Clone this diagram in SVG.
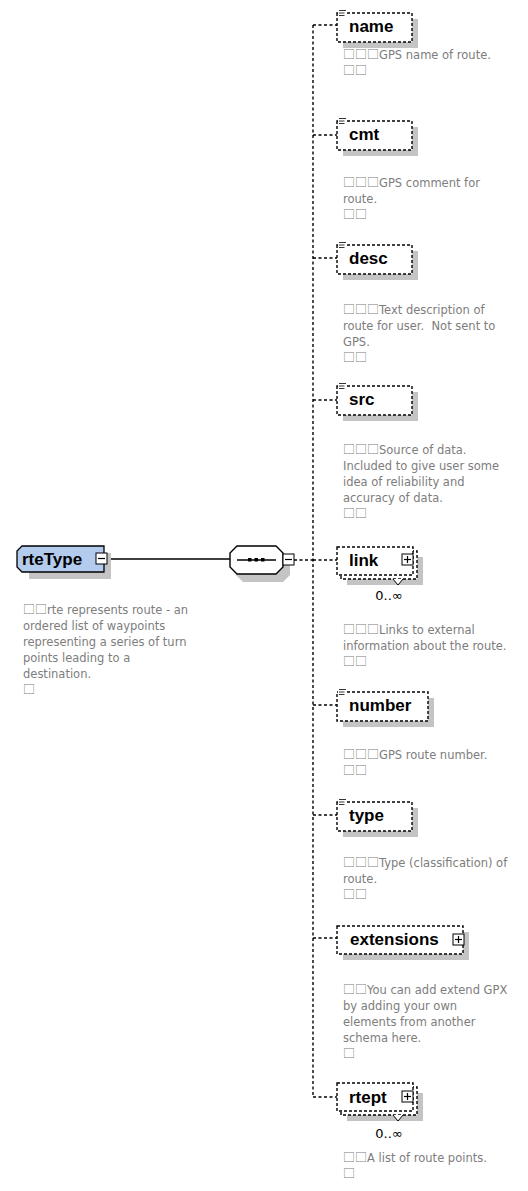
<svg xmlns="http://www.w3.org/2000/svg" width="528" height="1191" viewBox="0 0 528 1191">
  <style>
    .lbl { font-family: "Liberation Sans", Arial, sans-serif; font-weight: bold; font-size: 17px; fill: #000; }
    .doc { font-family: "DejaVu Sans", Verdana, sans-serif; font-size: 11.5px; fill: #7d7d7d; white-space: pre; }
    .tofu { font-family: "Noto Sans CJK SC", "DejaVu Sans", sans-serif; font-size: 12px; }
    .occ { font-family: "DejaVu Sans", Verdana, sans-serif; font-size: 13px; fill: #000; text-anchor: middle; }
    .shadow { fill: #c4c4c4; }
    .opt { fill: #fff; stroke: #000; stroke-width: 1.4; stroke-dasharray: 3 2; }
    .conn { fill: none; stroke: #000; stroke-width: 1.4; stroke-dasharray: 3 2.5; }
    .solid { fill: none; stroke: #000; stroke-width: 1.3; }
    .btn { fill: #fff; stroke: #000; stroke-width: 1; }
    .btnmark { stroke: #000; stroke-width: 1.2; }
    .ico { stroke: #000; stroke-width: 0.8; }
  </style>
  <defs>
    <g id="plusBox">
      <rect class="btn" x="0" y="0" width="11" height="11"/>
      <line class="btnmark" x1="2" y1="5.5" x2="9" y2="5.5"/>
      <line class="btnmark" x1="5.5" y1="2" x2="5.5" y2="9"/>
    </g>
    <g id="minusBox">
      <rect class="btn" x="0" y="0" width="11" height="11"/>
      <line class="btnmark" x1="2" y1="5.5" x2="9" y2="5.5"/>
    </g>
    <!-- simple-content marker at an element's top-left corner -->
    <g id="simpleIcon">
      <rect x="0" y="-1" width="9" height="8" fill="#fff"/>
      <line class="ico" x1="1" y1="0.5" x2="8" y2="0.5"/>
      <line class="ico" x1="1" y1="3" x2="6.5" y2="3"/>
      <line class="ico" x1="1" y1="5.5" x2="6.5" y2="5.5"/>
    </g>
  </defs>

  <rect width="528" height="1191" fill="#fff"/>

  <!-- connectors -->
  <g id="connectors">
    <line class="solid" x1="107" y1="559" x2="230" y2="559"/>
    <line class="conn" x1="294" y1="560" x2="313" y2="560"/>
    <line class="conn" x1="313" y1="25" x2="313" y2="1097"/>
    <line class="conn" x1="313" y1="25" x2="337" y2="25"/>
    <line class="conn" x1="313" y1="135" x2="337" y2="135"/>
    <line class="conn" x1="313" y1="258" x2="337" y2="258"/>
    <line class="conn" x1="313" y1="400" x2="337" y2="400"/>
    <line class="conn" x1="313" y1="560" x2="337" y2="560"/>
    <line class="conn" x1="313" y1="705" x2="337" y2="705"/>
    <line class="conn" x1="313" y1="815" x2="337" y2="815"/>
    <line class="conn" x1="313" y1="938" x2="337" y2="938"/>
    <line class="conn" x1="313" y1="1097" x2="337" y2="1097"/>
  </g>

  <!-- complex type rteType -->
  <g id="rteType">
    <polygon class="shadow" points="29,553 111,553 111,579 29,579"/>
    <polygon points="22,546 104,546 104,572 22,572 17,567 17,551" fill="#b3cbec" stroke="#000" stroke-width="1.3"/>
    <text class="lbl" x="22" y="565">rteType</text>
    <use href="#minusBox" x="96" y="553"/>
    <text class="doc" x="23" y="614"><tspan class="tofu">□□</tspan>rte represents route - an</text>
    <text class="doc" x="23" y="630">ordered list of waypoints</text>
    <text class="doc" x="23" y="646">representing a series of turn</text>
    <text class="doc" x="23" y="662">points leading to a</text>
    <text class="doc" x="23" y="678">destination.</text>
    <text class="doc" x="23" y="694"><tspan class="tofu">□</tspan></text>
  </g>

  <!-- sequence compositor -->
  <g id="sequence">
    <polygon class="shadow" points="243,553 283,553 290,560 290,575 283,582 243,582 236,575 236,560"/>
    <polygon points="237,546 276,546 283,553 283,567 276,574 237,574 230,567 230,553" fill="#fff" stroke="#000" stroke-width="1.4"/>
    <line x1="237" y1="560" x2="276" y2="560" stroke="#000" stroke-width="1.3"/>
    <rect x="248" y="558" width="3.5" height="3.5" fill="#000"/>
    <rect x="254.5" y="558" width="3.5" height="3.5" fill="#000"/>
    <rect x="261" y="558" width="3.5" height="3.5" fill="#000"/>
    <use href="#minusBox" x="283" y="554"/>
  </g>

  <g id="name">
    <rect class="shadow" x="343" y="19" width="75" height="29"/>
    <rect class="opt" x="337" y="13" width="75" height="29"/>
    <use href="#simpleIcon" x="338" y="10"/>
    <text class="lbl" x="349" y="32">name</text>
    <text class="doc" x="343" y="59"><tspan class="tofu">□□□</tspan>GPS name of route.</text>
    <text class="doc" x="343" y="75"><tspan class="tofu">□□</tspan></text>
  </g>

  <g id="cmt">
    <rect class="shadow" x="343" y="127" width="75" height="29"/>
    <rect class="opt" x="337" y="121" width="75" height="29"/>
    <use href="#simpleIcon" x="338" y="118"/>
    <text class="lbl" x="349" y="140">cmt</text>
    <text class="doc" x="343" y="187"><tspan class="tofu">□□□</tspan>GPS comment for</text>
    <text class="doc" x="343" y="203">route.</text>
    <text class="doc" x="343" y="219"><tspan class="tofu">□□</tspan></text>
  </g>

  <g id="desc">
    <rect class="shadow" x="343" y="251" width="75" height="29"/>
    <rect class="opt" x="337" y="245" width="75" height="29"/>
    <use href="#simpleIcon" x="338" y="242"/>
    <text class="lbl" x="349" y="264">desc</text>
    <text class="doc" x="343" y="314"><tspan class="tofu">□□□</tspan>Text description of</text>
    <text class="doc" x="343" y="330">route for user.  Not sent to</text>
    <text class="doc" x="343" y="346">GPS.</text>
    <text class="doc" x="343" y="362"><tspan class="tofu">□□</tspan></text>
  </g>

  <g id="src">
    <rect class="shadow" x="343" y="392" width="75" height="29"/>
    <rect class="opt" x="337" y="386" width="75" height="29"/>
    <use href="#simpleIcon" x="338" y="383"/>
    <text class="lbl" x="349" y="405">src</text>
    <text class="doc" x="343" y="454"><tspan class="tofu">□□□</tspan>Source of data.</text>
    <text class="doc" x="343" y="470">Included to give user some</text>
    <text class="doc" x="343" y="486">idea of reliability and</text>
    <text class="doc" x="343" y="502">accuracy of data.</text>
    <text class="doc" x="343" y="518"><tspan class="tofu">□□</tspan></text>
  </g>

  <g id="link">
    <rect class="shadow" x="347" y="557" width="76" height="28"/>
    <rect class="opt" x="341" y="551" width="76" height="28"/>
    <rect class="opt" x="337" y="547" width="76" height="28"/>
    <polyline points="393,579 398,585 403,579" fill="#fff" stroke="#000" stroke-width="1"/>
    <text class="lbl" x="349" y="566">link</text>
    <use href="#plusBox" x="402" y="554"/>
    <text class="occ" x="389" y="600">0..∞</text>
    <text class="doc" x="343" y="634"><tspan class="tofu">□□□</tspan>Links to external</text>
    <text class="doc" x="343" y="650">information about the route.</text>
    <text class="doc" x="343" y="666"><tspan class="tofu">□□</tspan></text>
  </g>

  <g id="number">
    <rect class="shadow" x="343" y="698" width="91" height="29"/>
    <rect class="opt" x="337" y="692" width="91" height="29"/>
    <use href="#simpleIcon" x="338" y="689"/>
    <text class="lbl" x="349" y="711">number</text>
    <text class="doc" x="343" y="759"><tspan class="tofu">□□□</tspan>GPS route number.</text>
    <text class="doc" x="343" y="775"><tspan class="tofu">□□</tspan></text>
  </g>

  <g id="type">
    <rect class="shadow" x="343" y="808" width="75" height="29"/>
    <rect class="opt" x="337" y="802" width="75" height="29"/>
    <use href="#simpleIcon" x="338" y="799"/>
    <text class="lbl" x="349" y="821">type</text>
    <text class="doc" x="343" y="867"><tspan class="tofu">□□□</tspan>Type (classification) of</text>
    <text class="doc" x="343" y="883">route.</text>
    <text class="doc" x="343" y="899"><tspan class="tofu">□□</tspan></text>
  </g>

  <g id="extensions">
    <rect class="shadow" x="343" y="932" width="126" height="28"/>
    <rect class="opt" x="337" y="926" width="126" height="28"/>
    <text class="lbl" x="350" y="945">extensions</text>
    <use href="#plusBox" x="453" y="934"/>
    <text class="doc" x="343" y="994"><tspan class="tofu">□□</tspan>You can add extend GPX</text>
    <text class="doc" x="343" y="1010">by adding your own</text>
    <text class="doc" x="343" y="1026">elements from another</text>
    <text class="doc" x="343" y="1042">schema here.</text>
    <text class="doc" x="343" y="1058"><tspan class="tofu">□</tspan></text>
  </g>

  <g id="rtept">
    <rect class="shadow" x="347" y="1093" width="76" height="28"/>
    <rect class="opt" x="341" y="1087" width="76" height="28"/>
    <rect class="opt" x="337" y="1083" width="76" height="28"/>
    <polyline points="393,1115 398,1121 403,1115" fill="#fff" stroke="#000" stroke-width="1"/>
    <text class="lbl" x="349" y="1103">rtept</text>
    <use href="#plusBox" x="402" y="1091"/>
    <text class="occ" x="389" y="1138">0..∞</text>
    <text class="doc" x="343" y="1162"><tspan class="tofu">□□</tspan>A list of route points.</text>
    <text class="doc" x="343" y="1178"><tspan class="tofu">□</tspan></text>
  </g>
</svg>
